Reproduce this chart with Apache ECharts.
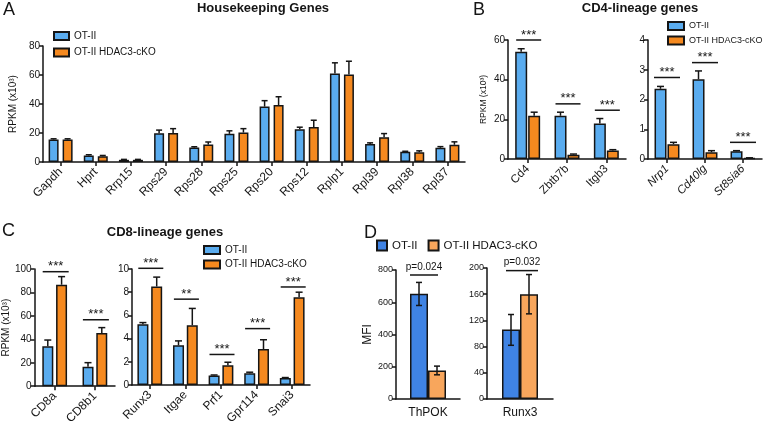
<!DOCTYPE html>
<html><head><meta charset="utf-8">
<script src="https://cdn.jsdelivr.net/npm/echarts@6/dist/echarts.min.js"></script>
<style>html,body{margin:0;padding:0;background:#fff}#c{width:768px;height:427px}</style>
</head><body><div id="c"></div>
<script>
const FONT = '"Liberation Sans", Arial, Helvetica, sans-serif';
const INK = '#151515';
const blueABC = '#5aacef', orangeABC = '#f5891f';
const blueD = '#3f83e4', orangeD = '#f8a65c';
const NAMES = ['OT-II', 'OT-II HDAC3-cKO'];

// ---- Panel A: Housekeeping genes
const hkGenes = ['Gapdh','Hprt','Rrp15','Rps29','Rps28','Rps25','Rps20','Rps12','Rplp1','Rpl39','Rpl38','Rpl37'];
const hkWT    = [15.5, 4.5, 1.5, 19.9, 10.0, 19.4, 38.2, 22.6, 61.0, 12.5, 7.0, 9.8];
const hkWTerr = [16.0, 5.0, 1.8, 22.0, 10.5, 21.5, 42.3, 24.0, 68.4, 13.2, 7.4, 10.6];
const hkKO    = [15.5, 4.0, 1.5, 20.0, 12.0, 20.3, 39.3, 24.2, 60.4, 17.1, 6.8, 11.9];
const hkKOerr = [16.0, 4.5, 1.8, 23.0, 13.8, 23.0, 45.0, 28.8, 69.5, 19.6, 7.7, 13.9];

// ---- Panel B: CD4-lineage genes
const cd4GenesL = ['Cd4','Zbtb7b','Itgb3'];
const cd4WTL    = [54.1, 21.8, 17.9];
const cd4WTLerr = [55.6, 23.6, 20.4];
const cd4KOL    = [21.8, 2.2, 4.3];
const cd4KOLerr = [23.6, 2.5, 4.7];
const cd4SigL   = [60, 27.8, 24.6];
const cd4SigLtxt = ['***','***','***'];

const cd4GenesR = ['Nrp1','Cd40lg','St8sia6'];
const cd4WTR    = [2.36, 2.68, 0.26];
const cd4WTRerr = [2.44, 2.96, 0.28];
const cd4KOR    = [0.50, 0.23, 0.03];
const cd4KORerr = [0.56, 0.28, 0.04];
const cd4SigR   = [2.74, 3.24, 0.56];
const cd4SigRtxt = ['***','***','***'];

// ---- Panel C: CD8-lineage genes
const cd8GenesL = ['CD8a','CD8b1'];
const cd8WTL    = [34.0, 16.7];
const cd8WTLerr = [39.4, 20.1];
const cd8KOL    = [86.6, 45.3];
const cd8KOLerr = [93.5, 50.0];
const cd8SigL   = [97.7, 56.7];
const cd8SigLtxt = ['***','***'];

const cd8GenesR = ['Runx3','Itgae','Prf1','Gpr114','Snai3'];
const cd8WTR    = [5.24, 3.42, 0.81, 1.00, 0.60];
const cd8WTRerr = [5.38, 3.80, 0.86, 1.10, 0.64];
const cd8KOR    = [8.49, 5.15, 1.70, 3.10, 7.57];
const cd8KORerr = [9.30, 6.60, 1.96, 3.90, 8.00];
const cd8SigR   = [10.06, 7.4, 2.63, 4.86, 8.45];
const cd8SigRtxt = ['***','**','***','***','***'];

// ---- Panel D: MFI
const mfiThpokCat = ['ThPOK'];
const mfiThpokWT = [653];  const mfiThpokWTlo = [580]; const mfiThpokWThi = [723];
const mfiThpokKO = [177];  const mfiThpokKOlo = [150]; const mfiThpokKOhi = [204];
const mfiThpokSig = [769]; const mfiThpokTxt = ['p=0.024'];
const mfiRunxCat = ['Runx3'];
const mfiRunxWT = [106];   const mfiRunxWTlo = [82];   const mfiRunxWThi = [129];
const mfiRunxKO = [160];   const mfiRunxKOlo = [130];  const mfiRunxKOhi = [190];
const mfiRunxSig = [196];  const mfiRunxTxt = ['p=0.032'];

const grids = [
  {left:31,  top:46,  width:434, height:116},
  {left:508, top:40,  width:118, height:119},
  {left:648, top:40,  width:114, height:119},
  {left:31,  top:269, width:84,  height:119},
  {left:132, top:269, width:178, height:119},
  {left:396, top:270, width:64,  height:129},
  {left:487, top:268, width:66,  height:131}
];

const lineSty = {color:INK, width:1.5};
function xCat(gi, data, fs, italic, rotate) {
  return {type:'category', gridIndex:gi, data,
    axisLine:{lineStyle:lineSty},
    axisTick:{show: rotate, alignWithLabel:true, length:4, lineStyle:lineSty},
    axisLabel:{rotate: rotate ? 45 : 0, interval:0, fontSize:fs, color:INK, fontFamily:FONT,
      fontStyle: italic ? 'italic' : 'normal', margin: 8}};
}
function yVal(gi, max, interval, name, nameGap, fs, nfs) {
  return {type:'value', gridIndex:gi, min:0, max, interval, name, nameLocation:'middle', nameGap,
    nameTextStyle:{fontSize:nfs, color:INK, fontFamily:FONT},
    axisLine:{show:true, lineStyle:lineSty},
    axisTick:{show:true, length:4, lineStyle:lineSty},
    splitLine:{show:false},
    axisLabel:{fontSize:fs, color:INK, fontFamily:FONT, margin:3}};
}
function bars(gi, wt, ko, bw, gap, cols) {
  return [wt, ko].map((d, k) => ({type:'bar', name:NAMES[k], xAxisIndex:gi, yAxisIndex:gi, data:d,
    barWidth:bw, barGap:gap,
    itemStyle:{color:cols[k], borderColor:INK, borderWidth:1.5}}));
}
function errUp(gi, vals, tops, off, cap) {
  return {type:'custom', xAxisIndex:gi, yAxisIndex:gi, z:5,
    data: vals.map((v, i) => [i, v, tops[i]]),
    renderItem(params, api) {
      const p0 = api.coord([api.value(0), api.value(1)]);
      const p1 = api.coord([api.value(0), api.value(2)]);
      const x = p0[0] + off;
      return {type:'group', children:[
        {type:'line', shape:{x1:x, y1:p0[1], x2:x, y2:p1[1]}, style:{stroke:INK, lineWidth:1.5}},
        {type:'line', shape:{x1:x-cap, y1:p1[1], x2:x+cap, y2:p1[1]}, style:{stroke:INK, lineWidth:1.5}}
      ]};
    }};
}
function errBoth(gi, lo, hi, off, cap) {
  return {type:'custom', xAxisIndex:gi, yAxisIndex:gi, z:5,
    data: lo.map((v, i) => [i, v, hi[i]]),
    renderItem(params, api) {
      const p0 = api.coord([api.value(0), api.value(1)]);
      const p1 = api.coord([api.value(0), api.value(2)]);
      const x = p0[0] + off;
      return {type:'group', children:[
        {type:'line', shape:{x1:x, y1:p0[1], x2:x, y2:p1[1]}, style:{stroke:INK, lineWidth:1.5}},
        {type:'line', shape:{x1:x-cap, y1:p1[1], x2:x+cap, y2:p1[1]}, style:{stroke:INK, lineWidth:1.5}},
        {type:'line', shape:{x1:x-cap, y1:p0[1], x2:x+cap, y2:p0[1]}, style:{stroke:INK, lineWidth:1.5}}
      ]};
    }};
}
function sig(gi, vals, txt, half, shift, fs, dy) {
  return {type:'custom', xAxisIndex:gi, yAxisIndex:gi, z:5,
    data: vals.map((v, i) => [i, v]),
    renderItem(params, api) {
      const p = api.coord([api.value(0), api.value(1)]);
      const cx = p[0] + shift;
      return {type:'group', children:[
        {type:'line', shape:{x1:cx-half, y1:p[1], x2:cx+half, y2:p[1]}, style:{stroke:INK, lineWidth:1.5}},
        {type:'text', style:{text: txt[params.dataIndex], x:cx, y:p[1]-dy, align:'center', verticalAlign:'middle',
          fontSize:fs, fontFamily:FONT, fill:INK}}
      ]};
    }};
}

const yName = 'RPKM (x10\u00b3)';
const option = {
  animation:false,
  backgroundColor:'#fff',
  textStyle:{fontFamily:FONT},
  grid: grids,
  xAxis: [
    xCat(0, hkGenes, 12, false, true),
    xCat(1, cd4GenesL, 11.5, false, true),
    xCat(2, cd4GenesR, 11.5, true, true),
    xCat(3, cd8GenesL, 12, false, true),
    xCat(4, cd8GenesR, 12, false, true),
    xCat(5, mfiThpokCat, 12, false, false),
    xCat(6, mfiRunxCat, 12, false, false)
  ],
  yAxis: [
    yVal(0, 80, 20, yName, 17, 10, 10),
    yVal(1, 60, 20, yName, 20, 10, 8.5),
    yVal(2, 4, 1, '', 0, 10, 9),
    yVal(3, 100, 20, yName, 18, 10, 10),
    yVal(4, 10, 2, '', 0, 10, 9),
    yVal(5, 800, 200, 'MFI', 21, 9, 12),
    yVal(6, 200, 40, '', 0, 9, 8)
  ],
  legend: [
    {left:53, top:30, padding:0, orient:'vertical', itemWidth:15, itemHeight:8, itemGap:4.5, icon:'rect', selectedMode:false,
      data:NAMES, textStyle:{fontSize:10, lineHeight:12, color:INK, fontFamily:FONT}},
    {left:667, top:20, padding:0, orient:'vertical', itemWidth:16, itemHeight:8, itemGap:2.5, icon:'rect', selectedMode:false,
      data:NAMES, textStyle:{fontSize:9, lineHeight:12, color:INK, fontFamily:FONT}},
    {left:203, top:244, padding:0, orient:'vertical', itemWidth:16, itemHeight:8, itemGap:2.5, icon:'rect', selectedMode:false,
      data:NAMES, textStyle:{fontSize:10, lineHeight:12, color:INK, fontFamily:FONT}},
    {left:376, top:239, padding:0, orient:'horizontal', itemWidth:10, itemHeight:10, itemGap:10, icon:'rect', selectedMode:false,
      data:[{name:NAMES[0], itemStyle:{color:blueD}}, {name:NAMES[1], itemStyle:{color:orangeD}}],
      textStyle:{fontSize:11.5, lineHeight:13, color:INK, fontFamily:FONT}}
  ],
  graphic: [
    {type:'text', x:3, y:1, style:{text:'A', fontSize:18, fontFamily:FONT, fill:INK}},
    {type:'text', x:473, y:1, style:{text:'B', fontSize:18, fontFamily:FONT, fill:INK}},
    {type:'text', x:2, y:222, style:{text:'C', fontSize:18, fontFamily:FONT, fill:INK}},
    {type:'text', x:364, y:224, style:{text:'D', fontSize:18, fontFamily:FONT, fill:INK}},
    {type:'text', x:263, y:8, style:{text:'Housekeeping Genes', align:'center', verticalAlign:'middle', fontSize:13, fontWeight:'bold', fontFamily:FONT, fill:INK}},
    {type:'text', x:640, y:8, style:{text:'CD4-lineage genes', align:'center', verticalAlign:'middle', fontSize:13, fontWeight:'bold', fontFamily:FONT, fill:INK}},
    {type:'text', x:165, y:232, style:{text:'CD8-lineage genes', align:'center', verticalAlign:'middle', fontSize:13, fontWeight:'bold', fontFamily:FONT, fill:INK}}
  ],
  series: [
    ...bars(0, hkWT, hkKO, 10, '40%', [blueABC, orangeABC]),
    ...bars(1, cd4WTL, cd4KOL, 12, '8%', [blueABC, orangeABC]),
    ...bars(2, cd4WTR, cd4KOR, 12, '8%', [blueABC, orangeABC]),
    ...bars(3, cd8WTL, cd8KOL, 11, '25%', [blueABC, orangeABC]),
    ...bars(4, cd8WTR, cd8KOR, 11, '25%', [blueABC, orangeABC]),
    ...bars(5, mfiThpokWT, mfiThpokKO, 18, '0%', [blueD, orangeD]),
    ...bars(6, mfiRunxWT, mfiRunxKO, 18, '0%', [blueD, orangeD]),
    errUp(0, hkWT, hkWTerr, -7, 3), errUp(0, hkKO, hkKOerr, 7, 3),
    errUp(1, cd4WTL, cd4WTLerr, -6.5, 3.5), errUp(1, cd4KOL, cd4KOLerr, 6.5, 3.5),
    errUp(2, cd4WTR, cd4WTRerr, -6.5, 3.5), errUp(2, cd4KOR, cd4KORerr, 6.5, 3.5),
    errUp(3, cd8WTL, cd8WTLerr, -6.9, 3.5), errUp(3, cd8KOL, cd8KOLerr, 6.9, 3.5),
    errUp(4, cd8WTR, cd8WTRerr, -6.9, 3.5), errUp(4, cd8KOR, cd8KORerr, 6.9, 3.5),
    errBoth(5, mfiThpokWTlo, mfiThpokWThi, -9, 3), errBoth(5, mfiThpokKOlo, mfiThpokKOhi, 9, 3),
    errBoth(6, mfiRunxWTlo, mfiRunxWThi, -9, 3), errBoth(6, mfiRunxKOlo, mfiRunxKOhi, 9, 3),
    sig(1, cd4SigL, cd4SigLtxt, 12.5, 1, 13, 5),
    sig(2, cd4SigR, cd4SigRtxt, 13, 0, 13, 5),
    sig(3, cd8SigL, cd8SigLtxt, 13, 1, 13, 5),
    sig(4, cd8SigR, cd8SigRtxt, 12.5, 1, 13, 5),
    sig(5, mfiThpokSig, mfiThpokTxt, 14, -4, 10, 8),
    sig(6, mfiRunxSig, mfiRunxTxt, 16, 2, 10, 8)
  ]
};
const chart = echarts.init(document.getElementById('c'));
chart.setOption(option);
</script></body></html>
